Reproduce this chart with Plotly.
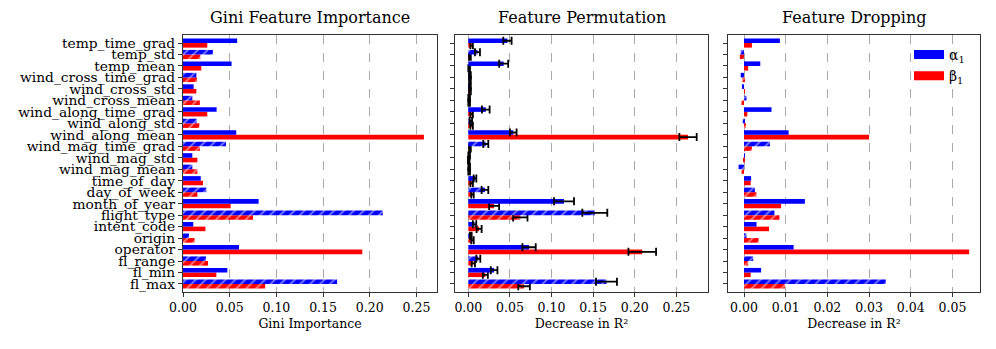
import plotly.graph_objects as go
from plotly.subplots import make_subplots

# features top -> bottom as shown
features = ["temp_time_grad", "temp_std", "temp_mean", "wind_cross_time_grad",
            "wind_cross_std", "wind_cross_mean", "wind_along_time_grad", "wind_along_std",
            "wind_along_mean", "wind_mag_time_grad", "wind_mag_std", "wind_mag_mean",
            "time_of_day", "day_of_week", "month_of_year", "flight_type",
            "intent_code", "origin", "operator", "fl_range", "fl_min", "fl_max"]
hatched = [i % 2 == 1 for i in range(len(features))]

# Gini importance
gini_alpha = [0.058, 0.032, 0.052, 0.0143, 0.0114, 0.010, 0.036, 0.0146, 0.057, 0.046, 0.010, 0.010,
              0.019, 0.025, 0.081, 0.214, 0.011, 0.0064, 0.060, 0.0246, 0.0475, 0.165]
gini_beta = [0.026, 0.0186, 0.0196, 0.015, 0.0143, 0.018, 0.026, 0.0175, 0.258, 0.018, 0.0154, 0.0154,
             0.0214, 0.0154, 0.051, 0.075, 0.024, 0.0125, 0.192, 0.0268, 0.0357, 0.088]

# permutation importance (mean, std)
perm_alpha = [0.047, 0.011, 0.0425, 0.002, 0.002, 0.001, 0.021, 0.003, 0.054, 0.021, 0.001, 0.001,
              0.008, 0.020, 0.115, 0.152, 0.0075, 0.003, 0.073, 0.012, 0.031, 0.166]
perm_alpha_err = [0.005, 0.003, 0.0054, 0.001, 0.001, 0.001, 0.0046, 0.0015, 0.004, 0.003, 0.001, 0.001,
                  0.0016, 0.004, 0.012, 0.015, 0.002, 0.001, 0.008, 0.0024, 0.004, 0.0126]
perm_beta = [0.004, 0.002, 0.001, 0.002, 0.002, 0.001, 0.004, 0.004, 0.264, 0.002, 0.0005, 0.001,
             0.004, 0.005, 0.031, 0.0625, 0.013, 0.005, 0.209, 0.006, 0.0205, 0.067]
perm_beta_err = [0.0015, 0.001, 0.001, 0.001, 0.001, 0.001, 0.0015, 0.0015, 0.0104, 0.001, 0.001, 0.001,
                 0.0015, 0.0015, 0.006, 0.0086, 0.003, 0.0015, 0.0166, 0.002, 0.003, 0.007]

# drop-column importance
drop_alpha = [0.0086, -0.0008, 0.0039, -0.0008, -0.0005, 0.0006, 0.0066, -0.0003, 0.0107, 0.0062, 0.0001, -0.0013,
              0.0017, 0.0026, 0.0146, 0.0073, 0.003, 0.0006, 0.0119, 0.0022, 0.0041, 0.034]
drop_beta = [0.0019, -0.001, 0.001, -0.0004, 0.0002, -0.0006, 0.0008, 0.0004, 0.030, 0.0019, -0.0002, -0.0006,
             0.0016, 0.003, 0.0089, 0.0085, 0.006, 0.0035, 0.054, 0.001, 0.0016, 0.0098]

BLUE = "#0000ff"
RED = "#ff0000"
SERIF = "DejaVu Serif"

# page body has an 8px margin, so the figure is drawn 8px smaller and offset
W, H, OFF = 988, 341, 8

fig = make_subplots(rows=1, cols=3)

shapes = ["/" if h else "" for h in hatched]


def add_pair(col, a, b, a_err=None, b_err=None):
    for vals, err, color in [(b, b_err, RED), (a, a_err, BLUE)]:
        kw = {}
        if err is not None:
            kw["error_x"] = dict(type="data", array=err, color="black", thickness=1.8, width=4)
        fig.add_trace(go.Bar(
            x=vals, y=features, orientation="h",
            marker=dict(color=color, line=dict(width=0),
                        pattern=dict(shape=shapes, fgcolor="white", size=7, solidity=0.25,
                                     fillmode="overlay")),
            showlegend=False, **kw), row=1, col=col)


add_pair(1, gini_alpha, gini_beta)
add_pair(2, perm_alpha, perm_beta, perm_alpha_err, perm_beta_err)
add_pair(3, drop_alpha, drop_beta)

# legend entries (wide patches like matplotlib)
for name, color in [("α<sub>1</sub>", BLUE), ("β<sub>1</sub>", RED)]:
    fig.add_trace(go.Scatter(x=[None], y=[None], mode="lines", name=name,
                             line=dict(color=color, width=9)), row=1, col=3)

px_edges = [(183, 437), (455, 708), (728, 980)]
doms = [((a - OFF) / W, (b - OFF) / W) for a, b in px_edges]
xranges = [(0, 0.272), (-0.016, 0.288), (-0.00384, 0.0566)]
dticks = [0.05, 0.05, 0.01]
xtitles = ["Gini Importance", "Decrease in R²", "Decrease in R²"]
titles = ["Gini Feature Importance", "Feature Permutation", "Feature Dropping"]

for i in range(3):
    xa = "xaxis" if i == 0 else f"xaxis{i + 1}"
    ya = "yaxis" if i == 0 else f"yaxis{i + 1}"
    fig.layout[xa].update(
        domain=doms[i], range=xranges[i], dtick=dticks[i], tick0=0, tickformat=".2f",
        showgrid=True, gridcolor="#aaaaaa", griddash="dash", gridwidth=0.8,
        showline=True, linecolor="#333333", linewidth=1.2, mirror=True,
        ticks="outside", ticklen=4, tickcolor="#333333", zeroline=False, automargin=False,
        tickfont=dict(family=SERIF, size=12.5, color="black"),
        title=dict(text=xtitles[i], font=dict(family=SERIF, size=12.5, color="black"), standoff=5))
    fig.layout[ya].update(
        categoryorder="array", categoryarray=features[::-1], range=[-0.7, 21.7],
        tickmode="array", tickvals=features, automargin=False,
        showline=True, linecolor="#333333", linewidth=1.2, mirror=True,
        ticks="outside", ticklen=4, tickcolor="#333333", showgrid=False,
        showticklabels=(i == 0),
        tickfont=dict(family=SERIF, size=13.8, color="black"))
    fig.add_annotation(text=titles[i], x=(doms[i][0] + doms[i][1]) / 2, y=1, xref="paper", yref="paper",
                       xanchor="center", yanchor="bottom", yshift=6, showarrow=False,
                       font=dict(family=SERIF, size=16, color="black"))

fig.update_layout(
    width=W, height=H, barmode="group", bargap=0.2, bargroupgap=0,
    margin=dict(l=0, r=0, t=35 - OFF, b=57, autoexpand=False),
    plot_bgcolor="white", paper_bgcolor="white",
    font=dict(family=SERIF, color="black"),
    legend=dict(x=(909 - OFF) / W, y=0.985, xanchor="left", yanchor="top", bgcolor="rgba(0,0,0,0)",
                itemwidth=30, tracegroupgap=0,
                font=dict(family=SERIF, size=14, color="black")),
)

fig.write_html("out.html")
